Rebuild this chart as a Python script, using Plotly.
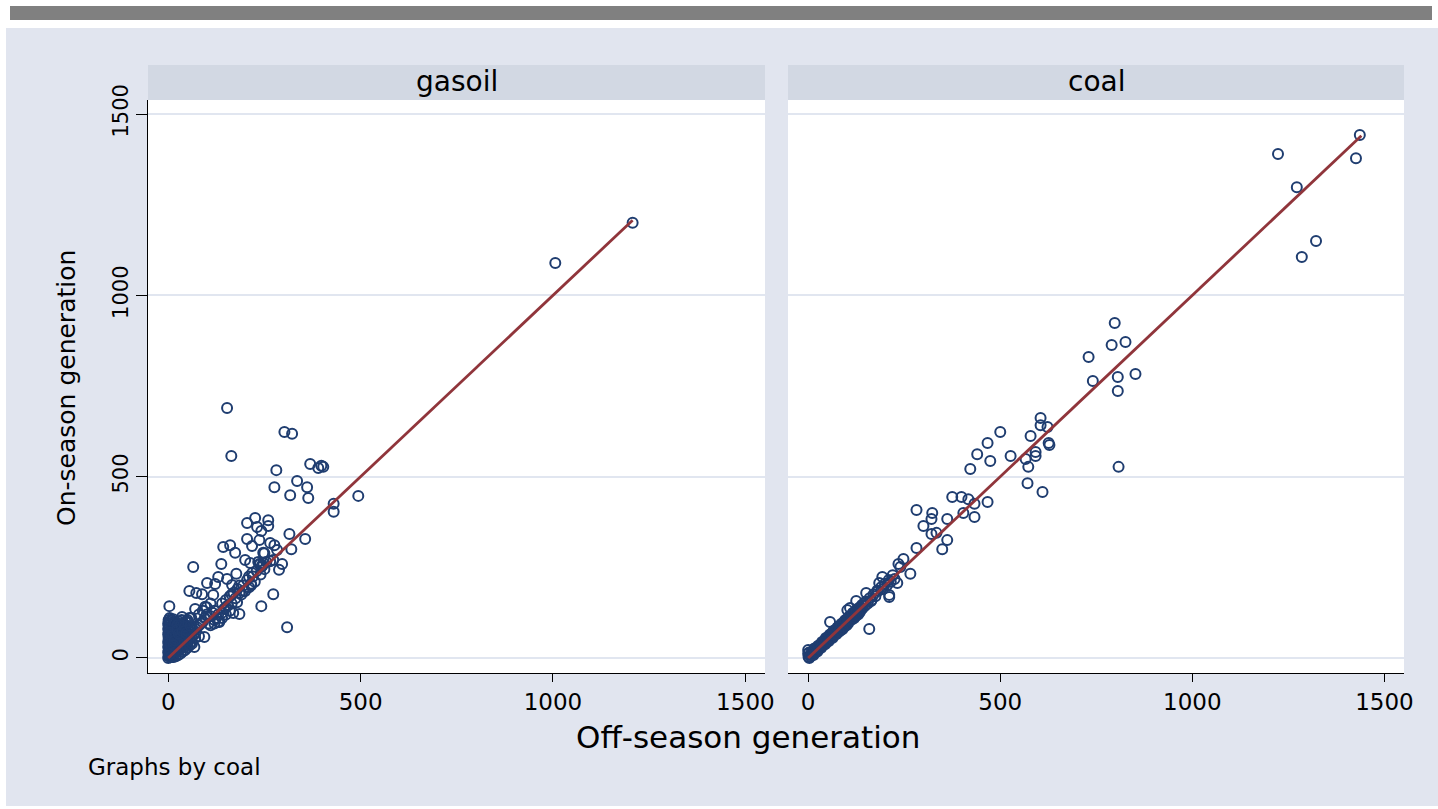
import plotly.graph_objects as go

W, H = 1438, 809

# ---------------- data ----------------
panel_labels = ["gasoil", "coal"]
tick_values = [0, 500, 1000, 1500]
tick_labels = ["0", "500", "1000", "1500"]

gasoil_off = [
    1207, 1006, 494, 430, 430, 153, 164, 302, 322, 281, 369, 390, 403, 398, 335, 361, 276, 317, 364,
    226, 260, 205, 231, 260, 242, 315, 356, 205, 237, 218, 265, 276, 143, 161, 320, 174, 247, 283,
    200, 138, 65, 273, 296, 288, 237, 242, 3, 309, 242, 273, 250, 265, 239, 218, 130, 153, 177,
    101, 122, 55, 73, 88, 117, 166, 185, 216, 179, 169, 185, 133, 96, 70, 36, 13, 68, 94, 213, 234, 247,
    110, 120, 125, 140, 145, 150, 155, 160, 165, 170, 175, 180, 190, 195, 200, 205, 210, 220, 225,
    230, 240, 245, 250, 255, 150, 160, 140, 130, 120, 115, 105, 100, 95, 90, 85, 80, 75, 70, 65, 60,
    55, 50, 45, 40, 90, 100, 110, 80, 60, 50, 45, 40, 35, 30, 25, 20, 15, 10, 5, 80, 70, 60, 50, 40,
    30, 110, 120, 130, 140, 150, 165, 185, 195, 210, 215,
    0, 1, 2, 0, 1, 3, 0, 2, 1, 0, 3, 1, 2, 0, 1, 3, 0, 2, 1, 0, 2, 1, 4, 5, 8, 10, 12, 15, 18, 20,
    22, 25, 28, 30, 32, 35, 38, 40, 42, 45, 48, 50, 10, 12, 15, 18, 20, 22, 25, 28, 30, 32, 35, 38,
    8, 10, 12, 15, 18, 6, 8, 20, 25, 30, 35, 40, 45, 50, 55, 5, 7, 9, 11, 13, 16, 19, 24, 6, 14, 20,
    26, 32, 38, 44, 50, 56, 62, 55, 60, 65, 70, 4, 6, 3, 9, 14, 17, 23, 27, 33, 37, 43, 47, 52, 58,
]
gasoil_on = [
    1200, 1089, 447, 425, 403, 689, 557, 623, 618, 518, 535, 524, 527, 530, 488, 471, 471, 449, 441,
    386, 380, 372, 361, 364, 350, 342, 328, 328, 325, 309, 317, 311, 306, 311, 300, 290, 290, 298,
    270, 259, 251, 270, 259, 243, 259, 251, 143, 85, 143, 176, 289, 267, 259, 234, 223, 218, 232,
    207, 204, 185, 179, 176, 174, 201, 179, 201, 154, 124, 121, 99, 141, 135, 113, 107, 30, 58, 262, 265, 262,
    115, 130, 110, 150, 135, 160, 145, 170, 150, 180, 165, 190, 175, 200, 185, 215, 195, 225, 210,
    240, 230, 255, 245, 265, 120, 130, 110, 100, 95, 125, 95, 120, 110, 100, 95, 90, 85, 80, 75, 70,
    65, 60, 55, 50, 130, 140, 150, 120, 110, 100, 90, 85, 80, 70, 65, 60, 55, 50, 45, 60, 55, 45, 40, 30,
    25, 90, 105, 120, 125, 140, 175, 200, 185, 225, 205,
    0, 5, 10, 15, 20, 25, 30, 35, 40, 45, 50, 55, 60, 65, 70, 75, 80, 85, 90, 95, 100, 105, 110, 5, 12,
    3, 20, 10, 25, 15, 30, 20, 35, 28, 40, 30, 45, 38, 52, 42, 58, 47, 30, 45, 38, 55, 48, 65, 58,
    72, 62, 80, 70, 88, 60, 75, 85, 95, 100, 95, 105, 85, 95, 100, 105, 95, 100, 105, 110, 20, 30,
    40, 55, 65, 75, 80, 90, 2, 3, 5, 8, 12, 18, 22, 28, 35, 40, 52, 58, 62, 68, 10, 40, 70, 60, 35,
    48, 78, 66, 92, 74, 86, 68, 98, 88,
]

coal_off = [
    1436, 1223, 1426, 1272, 1322, 1285, 798, 790, 826, 730, 741, 806, 852, 806, 808, 605, 605, 623,
    579, 626, 628, 527, 592, 592, 566, 573, 571, 610, 500, 467, 440, 474, 422, 375, 399, 417, 433,
    467, 404, 433, 282, 323, 321, 300, 362, 321, 334, 362, 282, 349, 248, 235, 240, 266, 193, 185,
    232, 206, 151, 182, 211, 211, 164, 125, 109, 136, 102, 159, 57,
    5, 8, 10, 12, 15, 18, 20, 22, 25, 28, 30, 32, 35, 38, 40, 42, 45, 48, 50, 52, 55, 58, 60, 62,
    65, 68, 70, 72, 75, 78, 80, 82, 85, 88, 90, 92, 95, 98, 100, 102, 105, 108, 110, 112, 115, 118,
    120, 122, 125, 128, 130, 132, 135, 138, 140, 142, 145, 148, 150, 155, 160, 165, 170, 175, 180,
    190, 195, 200, 210, 215, 220, 225, 0, 0, 1, 2, 3, 6, 14, 16, 24, 26, 34, 36, 44, 46, 54, 56, 64,
    66, 74, 76, 84, 86, 94, 96, 104, 106, 114, 116, 124, 126, 134, 100, 90, 80, 120, 130,
]
coal_on = [
    1442, 1390, 1378, 1298, 1150, 1106, 924, 863, 871, 830, 764, 775, 783, 736, 527, 662, 642, 637,
    612, 593, 587, 557, 568, 557, 549, 527, 482, 458, 623, 593, 562, 543, 521, 444, 444, 438, 425,
    430, 400, 389, 408, 400, 383, 364, 383, 342, 345, 325, 303, 300, 273, 259, 251, 232, 223, 207,
    207, 201, 179, 185, 174, 168, 157, 157, 138, 132, 132, 80, 99,
    8, 12, 15, 10, 20, 16, 25, 20, 30, 26, 35, 30, 40, 35, 45, 40, 50, 44, 55, 50, 60, 54, 66, 58,
    70, 64, 76, 68, 80, 74, 86, 78, 90, 84, 96, 88, 100, 94, 106, 98, 110, 104, 116, 108, 120, 114,
    126, 118, 130, 124, 136, 128, 140, 134, 146, 138, 150, 144, 156, 150, 165, 160, 175, 170, 186,
    195, 190, 205, 215, 210, 228, 218, 12, 22, 3, 15, 0, 4, 8, 26, 18, 34, 28, 44, 38, 55, 47, 64,
    56, 75, 66, 84, 76, 94, 86, 104, 96, 114, 106, 124, 116, 134, 126, 90, 80, 72, 110, 120,
]

gasoil_fit_x = [0, 1207]
gasoil_fit_y = [0, 1207]
coal_fit_x = [0, 1440]
coal_fit_y = [0, 1440]

# ---------------- style ----------------
FONT = "DejaVu Sans"
MARKER = "#1f3d70"
FIT = "#90353b"
BG = "#e1e5ef"
STRIP = "#d2d8e3"
GRID = "#e1e6f0"


def px(x):
    return x / W


def py(y):
    return 1 - y / H


left = (148, 765)
right = (788, 1404)
top, bottom = 100, 673

fig = go.Figure()

mk = dict(symbol="circle-open", size=10, color=MARKER, line=dict(width=2, color=MARKER))
fig.add_trace(go.Scatter(x=gasoil_off, y=gasoil_on, mode="markers", xaxis="x", yaxis="y",
                         marker=mk, showlegend=False))
fig.add_trace(go.Scatter(x=gasoil_fit_x, y=gasoil_fit_y, mode="lines", xaxis="x", yaxis="y",
                         line=dict(color=FIT, width=2.8), showlegend=False))
fig.add_trace(go.Scatter(x=coal_off, y=coal_on, mode="markers", xaxis="x2", yaxis="y2",
                         marker=mk, showlegend=False))
fig.add_trace(go.Scatter(x=coal_fit_x, y=coal_fit_y, mode="lines", xaxis="x2", yaxis="y2",
                         line=dict(color=FIT, width=2.8), showlegend=False))

shapes = [
    dict(type="rect", xref="paper", yref="paper", x0=px(6), x1=px(1438), y0=py(806), y1=py(28),
         fillcolor=BG, line=dict(width=0), layer="below"),
    dict(type="rect", xref="paper", yref="paper", x0=px(10), x1=px(1432), y0=py(20), y1=py(6),
         fillcolor="#808080", line=dict(width=0), layer="below"),
]
for (a, b) in (left, right):
    shapes.append(dict(type="rect", xref="paper", yref="paper", x0=px(a), x1=px(b), y0=py(bottom), y1=py(top),
                       fillcolor="white", line=dict(width=0), layer="below"))
    shapes.append(dict(type="rect", xref="paper", yref="paper", x0=px(a), x1=px(b), y0=py(top), y1=py(65),
                       fillcolor=STRIP, line=dict(width=0), layer="below"))

annotations = [
    dict(text=panel_labels[0], x=px((left[0] + left[1]) / 2), y=py(82), xref="paper", yref="paper",
         showarrow=False, xanchor="center", yanchor="middle", font=dict(family=FONT, size=28, color="black")),
    dict(text=panel_labels[1], x=px((right[0] + right[1]) / 2), y=py(82), xref="paper", yref="paper",
         showarrow=False, xanchor="center", yanchor="middle", font=dict(family=FONT, size=28, color="black")),
    dict(text="Off-season generation", x=px(748), y=py(737), xref="paper", yref="paper",
         showarrow=False, xanchor="center", yanchor="middle", font=dict(family=FONT, size=31, color="black")),
    dict(text="On-season generation", x=px(66), y=py(388), xref="paper", yref="paper", textangle=-90,
         showarrow=False, xanchor="center", yanchor="middle", font=dict(family=FONT, size=25, color="black")),
    dict(text="Graphs by coal", x=px(86), y=py(767), xref="paper", yref="paper",
         showarrow=False, xanchor="left", yanchor="middle", font=dict(family=FONT, size=23, color="black")),
]

xcommon = dict(range=[-52.5, 1551], tickvals=tick_values, ticktext=tick_labels, showline=True,
               linecolor="black", linewidth=1.2, ticks="outside", ticklen=8, tickwidth=1.2, tickcolor="black",
               showgrid=False, zeroline=False, automargin=False,
               tickfont=dict(family=FONT, size=23, color="black"))
ycommon = dict(range=[-41.4, 1538.6], tickvals=tick_values, ticktext=tick_labels, showgrid=True,
               gridcolor=GRID, gridwidth=1.5, zeroline=False, automargin=False,
               domain=[py(bottom), py(top)])

fig.update_layout(
    template="none",
    width=W, height=H, autosize=False,
    margin=dict(l=0, r=0, t=0, b=0, pad=0, autoexpand=False),
    paper_bgcolor="white", plot_bgcolor="rgba(0,0,0,0)",
    showlegend=False,
    xaxis=dict(domain=[px(left[0]), px(left[1])], anchor="y", **xcommon),
    xaxis2=dict(domain=[px(right[0]), px(right[1])], anchor="y2", **xcommon),
    yaxis=dict(anchor="x", showline=True, linecolor="black", linewidth=1.2, ticks="outside", ticklen=11,
               tickwidth=1.2, tickcolor="black", tickangle=-90,
               tickfont=dict(family=FONT, size=21, color="black"), **ycommon),
    yaxis2=dict(anchor="x2", showline=False, ticks="", showticklabels=False, **ycommon),
    shapes=shapes,
    annotations=annotations,
)

fig.write_html("out.html")
